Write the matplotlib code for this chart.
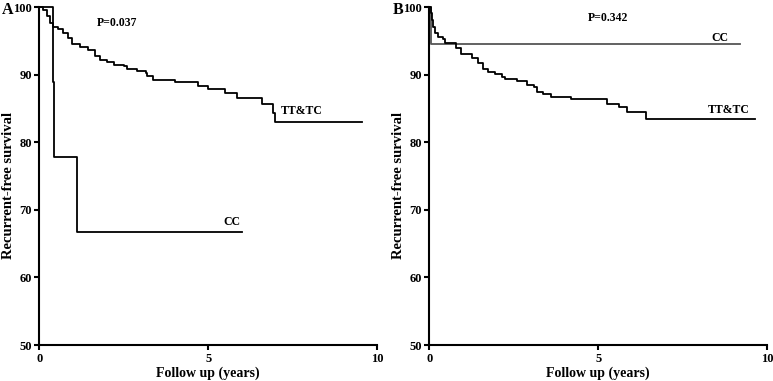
import matplotlib.pyplot as plt

plt.rcParams['font.family'] = ['Liberation Serif', 'DejaVu Serif']
plt.rcParams['font.weight'] = 'bold'

# panel A - step times (years) and survival (%)
a_ttc_t = [0, 0.12, 0.22, 0.31, 0.41, 0.56, 0.71, 0.86, 0.96, 1.2, 1.45, 1.65,
           1.8, 2.0, 2.2, 2.5, 2.6, 2.9, 3.15, 3.2, 3.35, 4.0, 4.7, 5.0, 5.5,
           5.85, 6.6, 6.9, 6.98, 9.55]
a_ttc_s = [100, 99.6, 98.6, 97.6, 97.1, 96.7, 96.1, 95.4, 94.5, 94.1, 93.6, 92.7,
           92.2, 91.9, 91.4, 91.2, 90.8, 90.5, 90.3, 89.8, 89.2, 88.9, 88.3, 87.9,
           87.3, 86.6, 85.6, 84.3, 83.0, 83.0]
a_cc_t = [0, 0.41, 0.44, 1.11, 6.0]
a_cc_s = [100, 88.9, 77.8, 66.7, 66.7]

# panel B
b_ttc_t = [0, 0.04, 0.07, 0.12, 0.17, 0.27, 0.41, 0.46, 0.8, 0.95, 1.25, 1.45,
           1.6, 1.75, 1.95, 2.15, 2.25, 2.6, 2.75, 2.9, 3.1, 3.2, 3.35, 3.6,
           4.2, 5.25, 5.6, 5.85, 6.4, 9.65]
b_ttc_s = [100, 99.1, 98.1, 97.1, 96.1, 95.5, 95.2, 94.7, 93.9, 93.0, 92.4, 91.7,
           90.9, 90.4, 90.1, 89.7, 89.4, 89.1, 89.0, 88.5, 88.2, 87.5, 87.1, 86.7,
           86.4, 85.7, 85.2, 84.4, 83.4, 83.4]
b_cc_t = [0, 0.04, 9.18]
b_cc_s = [100, 94.5, 94.5]

panels = [
    dict(letter='A', ttc=(a_ttc_t, a_ttc_s), cc=(a_cc_t, a_cc_s), cc_color='black',
         p='P=0.037', p_xy=(2.3, 97.6), ttc_xy=(7.75, 84.6), cc_xy=(5.7, 68.2),
         left=39.3),
    dict(letter='B', ttc=(b_ttc_t, b_ttc_s), cc=(b_cc_t, b_cc_s), cc_color='#555555',
         p='P=0.342', p_xy=(5.3, 98.3), ttc_xy=(8.85, 84.8), cc_xy=(8.6, 95.4),
         left=429.3),
]

W, H = 773, 381
fig = plt.figure(figsize=(W / 100, H / 100), dpi=100)

for pn in panels:
    ax = fig.add_axes([pn['left'] / W, 1 - 345 / H, 338 / W, 338 / H])
    ax.step(*pn['cc'], where='post', color=pn['cc_color'], lw=1.3, clip_on=False)
    ax.step(*pn['ttc'], where='post', color='black', lw=1.3, clip_on=False)

    ax.set_xlim(0, 10)
    ax.set_ylim(50, 100)
    ax.set_xticks([0, 5, 10])
    ax.set_yticks([50, 60, 70, 80, 90, 100])
    for s in ('top', 'right'):
        ax.spines[s].set_visible(False)
    for s in ('left', 'bottom'):
        ax.spines[s].set_linewidth(1.5)
    ax.tick_params(direction='out', length=3.5, width=1.5, labelsize=9, pad=2)
    for lab in ax.get_xticklabels() + ax.get_yticklabels():
        lab.set_fontweight('bold')

    ax.set_xlabel('Follow up (years)', fontsize=10, fontweight='bold', va='center')
    ax.set_ylabel('Recurrent-free survival', fontsize=10.5, fontweight='bold', va='center')
    ax.xaxis.set_label_coords(0.5, -0.083)
    ax.yaxis.set_label_coords(-0.092, 0.473)

    ax.text(*pn['p_xy'], pn['p'], fontsize=8.5, fontweight='bold', ha='center', va='center')
    ax.text(*pn['ttc_xy'], 'TT&TC', fontsize=8.5, fontweight='bold', ha='center', va='center')
    ax.text(*pn['cc_xy'], 'CC', fontsize=8.5, fontweight='bold', ha='center', va='center')

    fig.text((pn['left'] - 31.5) / W, 1 - 9.5 / H, pn['letter'], fontsize=11.5,
             fontweight='bold', ha='center', va='center')

fig.savefig('out.png', dpi=100)
